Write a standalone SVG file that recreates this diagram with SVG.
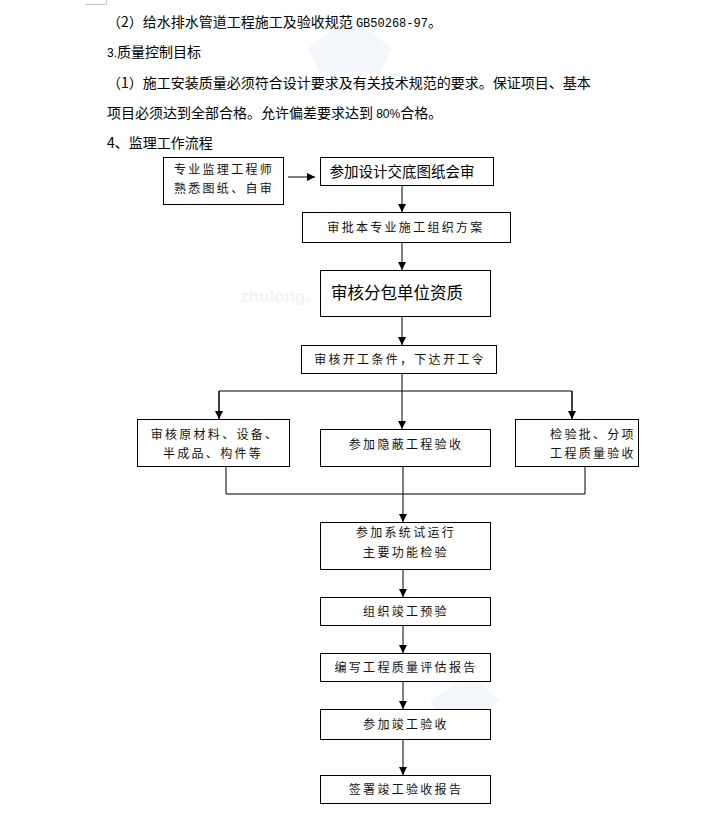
<svg xmlns="http://www.w3.org/2000/svg" width="713" height="818" viewBox="0 0 713 818">
<style>
.t{font-family:"Noto Sans CJK SC","Liberation Sans",sans-serif;font-size:14px;fill:#000}
.n rect{fill:#fff;stroke:#000;stroke-width:1}
.s{font-family:"Noto Sans CJK SC","Liberation Sans",sans-serif;font-size:12px;letter-spacing:2.3px;fill:#111;text-anchor:middle}
.b{font-family:"Noto Sans CJK SC","Liberation Sans",sans-serif;fill:#000;text-anchor:middle}
.c line,.c polyline{stroke:#000;stroke-width:1;fill:none}
</style>
<defs>
<marker id="ah" markerWidth="8" markerHeight="8" refX="8" refY="4" orient="auto" markerUnits="userSpaceOnUse">
<path d="M0,0 L8,4 L0,8 Z" fill="#000"/>
</marker>
</defs>
<rect width="713" height="818" fill="#fff"/>
<g id="watermark" opacity="0.5">
<polygon points="350,18 392,48 380,72 320,72 308,48" fill="#e8f0f8"/>
<polygon points="470,675 500,700 480,718 440,718 430,700" fill="#e8f0f8"/>
<text x="240" y="302" font-family="Liberation Sans,sans-serif" font-weight="bold" font-size="17" fill="#dde8f5">zhulong.</text>
</g>
<polyline points="85,4.5 106.5,4.5 106.5,0" fill="none" stroke="#c8c8c8" stroke-width="1"/>
<g id="header">
<text class="t" x="107" y="27">（2）给水排水管道工程施工及验收规范 <tspan font-family="Liberation Mono,monospace" font-size="12">GB50268-97</tspan>。</text>
<text class="t" x="107" y="57"><tspan font-family="Liberation Sans,sans-serif" font-size="12">3.</tspan>质量控制目标</text>
<text class="t" x="107" y="88">（1）施工安装质量必须符合设计要求及有关技术规范的要求。保证项目、基本</text>
<text class="t" x="107" y="118">项目必须达到全部合格。允许偏差要求达到 <tspan font-family="Liberation Sans,sans-serif" font-size="12">80%</tspan>合格。</text>
<text class="t" x="107" y="148">4、监理工作流程</text>
</g>
<g class="c" id="connectors">
<line x1="288" y1="177" x2="315" y2="177" marker-end="url(#ah)"/>
<line x1="402" y1="185" x2="402" y2="212" marker-end="url(#ah)"/>
<line x1="402" y1="242" x2="402" y2="270" marker-end="url(#ah)"/>
<line x1="402" y1="316" x2="402" y2="345" marker-end="url(#ah)"/>
<line x1="402" y1="373" x2="402" y2="429" marker-end="url(#ah)"/>
<polyline points="219,419 219,391 572,391 572,419" />
<line x1="219" y1="391" x2="219" y2="419" marker-end="url(#ah)"/>
<line x1="572" y1="391" x2="572" y2="419" marker-end="url(#ah)"/>
<polyline points="226,466 226,494 585,494 585,466"/>
<line x1="403" y1="466" x2="403" y2="494"/>
<line x1="403" y1="494" x2="403" y2="522" marker-end="url(#ah)"/>
<line x1="403" y1="569" x2="403" y2="597" marker-end="url(#ah)"/>
<line x1="403" y1="625" x2="403" y2="653" marker-end="url(#ah)"/>
<line x1="403" y1="681" x2="403" y2="709" marker-end="url(#ah)"/>
<line x1="403" y1="739" x2="403" y2="775" marker-end="url(#ah)"/>
</g>
<g class="n" id="nA"><rect x="163.5" y="157.5" width="120" height="47"/><text class="s" x="224" y="174">专业监理工程师</text><text class="s" x="224" y="193">熟悉图纸、自审</text></g>
<g class="n" id="nB"><rect x="320.5" y="157.5" width="173" height="28"/><text class="b" x="402" y="177" font-size="14.5">参加设计交底图纸会审</text></g>
<g class="n" id="nC"><rect x="302.5" y="212.5" width="208" height="30"/><text class="s" x="406" y="232">审批本专业施工组织方案</text></g>
<g class="n" id="nD"><rect x="320.5" y="270.5" width="170" height="46"/><text class="b" x="397" y="299" font-size="16.5">审核分包单位资质</text></g>
<g class="n" id="nE"><rect x="301.5" y="345.5" width="195" height="28"/><text class="s" x="400" y="364">审核开工条件，下达开工令</text></g>
<g class="n" id="nF"><rect x="137.5" y="419.5" width="152" height="47"/><text class="s" x="215" y="439">审核原材料、设备、</text><text class="s" x="213" y="458">半成品、构件等</text></g>
<g class="n" id="nG"><rect x="320.5" y="429.5" width="170" height="37"/><text class="s" x="406" y="449">参加隐蔽工程验收</text></g>
<g class="n" id="nH"><rect x="515.5" y="419.5" width="123" height="47"/><text class="s" x="593" y="439">检验批、分项</text><text class="s" x="593" y="458">工程质量验收</text></g>
<g class="n" id="nI"><rect x="320.5" y="522.5" width="170" height="47"/><text class="s" x="406" y="537">参加系统试运行</text><text class="s" x="406" y="557">主要功能检验</text></g>
<g class="n" id="nJ"><rect x="320.5" y="597.5" width="170" height="28"/><text class="s" x="406" y="616">组织竣工预验</text></g>
<g class="n" id="nK"><rect x="320.5" y="653.5" width="170" height="28"/><text class="s" x="406" y="672">编写工程质量评估报告</text></g>
<g class="n" id="nL"><rect x="320.5" y="709.5" width="170" height="30"/><text class="s" x="406" y="729">参加竣工验收</text></g>
<g class="n" id="nM"><rect x="320.5" y="775.5" width="170" height="28"/><text class="s" x="406" y="794">签署竣工验收报告</text></g>
</svg>
